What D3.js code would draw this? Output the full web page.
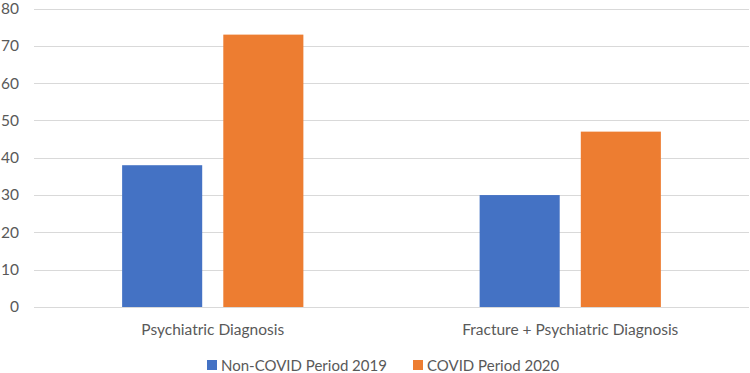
<!DOCTYPE html>
<html>
<head>
<meta charset="utf-8">
<script src="https://cdn.jsdelivr.net/npm/d3@7"></script>
<style>
  body { margin: 0; background: #fff; }
  text { font-family: Lato, "Open Sans", sans-serif; fill: #595959; }
</style>
</head>
<body>
<div id="chart"></div>
<script>
// data
const categories = ['Psychiatric Diagnosis', 'Fracture + Psychiatric Diagnosis'];
const seriesNames = ['Non-COVID Period 2019', 'COVID Period 2020'];
const nonCovid2019 = [38, 30];
const covid2020 = [73, 47];
const yTicks = [0, 10, 20, 30, 40, 50, 60, 70, 80];
const colors = ['#4472c4', '#ed7d31'];

const width = 750;
const height = 373;
const margin = { top: 8.5, right: 1, bottom: 66, left: 34 };

const svg = d3.select('#chart')
  .append('svg')
  .attr('width', width)
  .attr('height', height);

const x = d3.scaleBand()
  .domain(categories)
  .range([margin.left, width - margin.right])
  .paddingInner(0)
  .paddingOuter(0);

const y = d3.scaleLinear()
  .domain([0, 80])
  .range([height - margin.bottom, margin.top]);

const barW = x.bandwidth() * 0.224;
const gap = x.bandwidth() * 0.059;

// gridlines
svg.append('g')
  .selectAll('line')
  .data(yTicks)
  .enter().append('line')
  .attr('x1', margin.left)
  .attr('x2', width - margin.right)
  .attr('y1', d => Math.round(y(d)) + 0.5)
  .attr('y2', d => Math.round(y(d)) + 0.5)
  .attr('stroke', '#d9d9d9')
  .attr('stroke-width', 1);

// y labels
svg.append('g')
  .selectAll('text')
  .data(yTicks)
  .enter().append('text')
  .attr('x', 19)
  .attr('y', d => y(d))
  .attr('dy', '0.35em')
  .attr('text-anchor', 'end')
  .style('font-size', '15.5px')
  .text(d => d);

// bars
const rows = categories.map((c, i) => ({ cat: c, vals: [nonCovid2019[i], covid2020[i]] }));

const groups = svg.selectAll('.grp')
  .data(rows)
  .enter().append('g')
  .attr('class', 'grp');

groups.selectAll('rect')
  .data(d => d.vals.map((v, j) => ({ cat: d.cat, v: v, j: j })))
  .enter().append('rect')
  .attr('x', d => x(d.cat) + x.bandwidth() / 2 - barW - gap / 2 + d.j * (barW + gap))
  .attr('y', d => y(d.v))
  .attr('width', barW)
  .attr('height', d => y(0) - y(d.v))
  .attr('fill', d => colors[d.j]);

// category labels
svg.append('g')
  .selectAll('text')
  .data(categories)
  .enter().append('text')
  .attr('x', d => x(d) + x.bandwidth() / 2)
  .attr('y', 335)
  .attr('text-anchor', 'middle')
  .style('font-size', '15.5px')
  .text(d => d);

// legend
const legendX = [207, 413];
const legend = svg.selectAll('.legend')
  .data(seriesNames)
  .enter().append('g')
  .attr('class', 'legend')
  .attr('transform', (d, i) => 'translate(' + legendX[i] + ',360)');

legend.append('rect')
  .attr('width', 10)
  .attr('height', 10)
  .attr('fill', (d, i) => colors[i]);

legend.append('text')
  .attr('x', 14)
  .attr('y', 10.5)
  .style('font-size', '15px')
  .text(d => d);
</script>
</body>
</html>
